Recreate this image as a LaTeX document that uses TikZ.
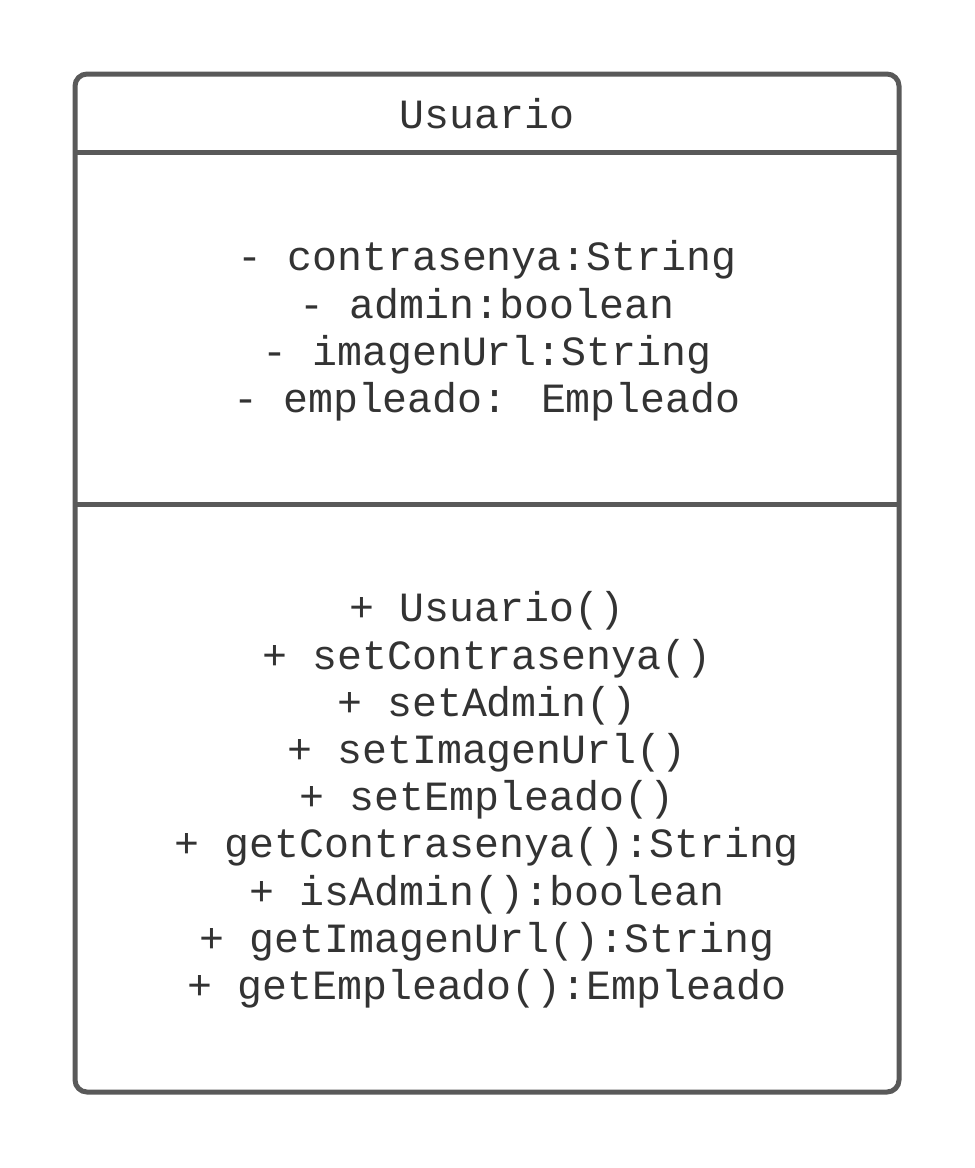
\documentclass[tikz,border=0pt]{standalone}
\usepackage{fontspec}
\newfontfamily\umlfont{Liberation Mono}
\usetikzlibrary{positioning}
\definecolor{boxgray}{HTML}{595959}
\definecolor{textgray}{HTML}{333333}

\begin{document}
\begin{tikzpicture}[x=0.75pt, y=-0.75pt, thick,
    class box/.style={draw=boxgray, line width=3.75pt, rounded corners=9pt},
    divider/.style={draw=boxgray, line width=3.75pt},
    member/.style={text=textgray, align=center, inner sep=0pt,
        font=\umlfont\fontsize{31.2}{35.4}\selectfont}]
\useasboundingbox (0,0) rectangle (975,1168);
\coordinate (nw) at (75,74);
\coordinate (se) at (899,1092);
\draw[class box] (nw) rectangle (se);
\draw[divider] (75,152) -- (899,152);
\draw[divider] (75,504) -- (899,504);
\node[member] (name) at (487,114) {Usuario};
\node[member] (attrs) at (487,331) {- contrasenya:String\\- admin:boolean\\- imagenUrl:String\\- empleado: Empleado};
\node[member] (ops) at (487,800) {+ Usuario()\\+ setContrasenya()\\+ setAdmin()\\+ setImagenUrl()\\+ setEmpleado()\\+ getContrasenya():String\\+ isAdmin():boolean\\+ getImagenUrl():String\\+ getEmpleado():Empleado};
\end{tikzpicture}
\end{document}
